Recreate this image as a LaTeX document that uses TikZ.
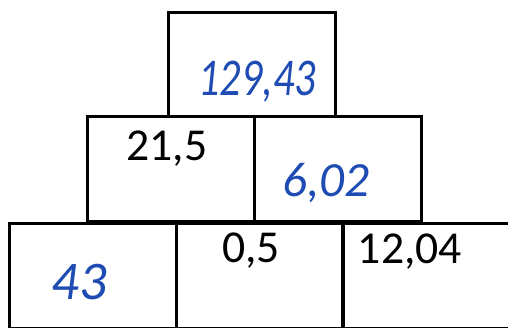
\documentclass[tikz,border=0pt]{standalone}
\usepackage{fontspec}
\setmainfont{Carlito}
\definecolor{penblue}{RGB}{30,76,178}
\begin{document}
\begin{tikzpicture}[
    x=0.02cm, y=-0.02cm,
    cell/.style={draw=black, line width=1.7pt, minimum width=3.34cm, minimum height=2.1cm, inner sep=0pt},
    given/.style={font=\fontsize{26}{30}\selectfont, anchor=base, inner sep=0pt},
    found/.style={font=\fontsize{28}{32}\selectfont\itshape, text=penblue, anchor=base, inner sep=0pt}
  ]
  \useasboundingbox (0,0) rectangle (508,328);
  \clip (0,0) rectangle (508,328);
  % pyramid cells
  \node[cell] (top) at (252,64.5) {};
  \node[cell] (midL) at (171.25,169.25) {};
  \node[cell] (midR) at (338.25,169.25) {};
  \foreach \x/\n in {93.25/botL, 259.75/botM, 426/botR} { \node[cell] (\n) at (\x,276) {}; }
  % numbers
  \node[given] (vMidL) at (167,160) {21,5};
  \node[given] (vBotM) at (251,262) {0,5};
  \node[given] (vBotR) at (410,263) {12,04};
  \node[found] (vTop) at (257,95) {\scalebox{0.86}[1.08]{129,43}};
  \node[found] (vMidR) at (326,196) {6,02};
  \node[found, font=\fontsize{31}{34}\selectfont\itshape] (vBotL) at (79,299) {43};
\end{tikzpicture}
\end{document}
